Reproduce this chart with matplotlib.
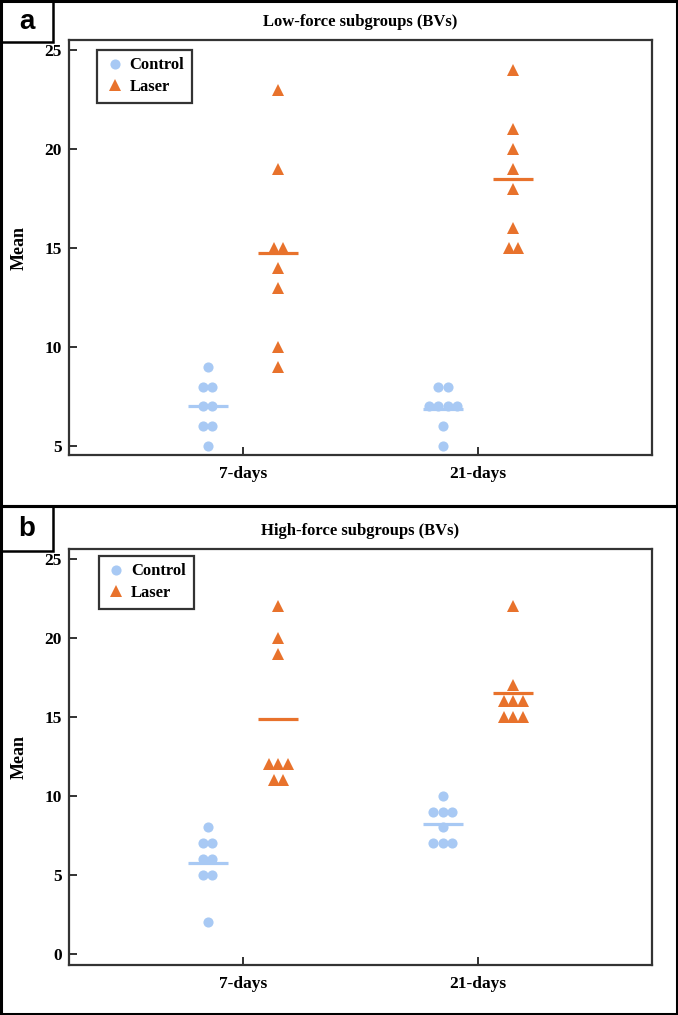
import numpy as np
import matplotlib
matplotlib.use('Agg')
import matplotlib.pyplot as plt
from matplotlib.patches import Rectangle
from matplotlib.lines import Line2D

# data
days = ['7-days', '21-days']

low_control_7 = [9, 8, 8, 7, 7, 6, 6, 5]
low_laser_7 = [23, 19, 15, 15, 14, 13, 10, 9]
low_control_21 = [8, 8, 7, 7, 7, 7, 6, 5]
low_laser_21 = [24, 21, 20, 19, 18, 16, 15, 15]

high_control_7 = [8, 7, 7, 6, 6, 5, 5, 2]
high_laser_7 = [22, 20, 19, 12, 12, 12, 11, 11]
high_control_21 = [10, 9, 9, 9, 8, 7, 7, 7]
high_laser_21 = [22, 17, 16, 16, 16, 15, 15, 15]

c_ctrl = '#a8c9f4'
c_laser = '#e8722c'
serif = 'Liberation Serif'

plt.rcParams['font.family'] = serif
plt.rcParams['font.weight'] = 'bold'

fig = plt.figure(figsize=(6.78, 10.15), dpi=100)


def swarm(ax, xc, vals, color, marker):
    vals = np.array(vals)
    xs = []
    ys = []
    for v in np.unique(vals):
        n = np.sum(vals == v)
        for i in range(n):
            xs.append(xc + (i - (n - 1) / 2.0) * 0.04)
            ys.append(v)
    ax.plot(xs, ys, linestyle='none', marker=marker, color=color,
            markersize=8 if marker == '^' else 7.3, markeredgewidth=0, zorder=3)
    ax.hlines(np.mean(vals), xc - 0.085, xc + 0.085, color=color, lw=2.3, zorder=2)


def panel(rect, title, groups, ylim, yticks, leg_anchor):
    ax = fig.add_axes(rect)
    for k, (ctrl, laser) in enumerate(groups):
        xc = k + 1
        swarm(ax, xc - 0.15, ctrl, c_ctrl, 'o')
        swarm(ax, xc + 0.15, laser, c_laser, '^')
    ax.set_xlim(0.26, 2.74)
    ax.set_ylim(*ylim)
    ax.set_xticks([1, 2])
    ax.set_xticklabels(days, fontsize=12.5, fontweight='bold')
    ax.set_yticks(yticks)
    ax.set_yticklabels([str(t) for t in yticks], fontsize=12.5, fontweight='bold')
    ax.tick_params(direction='in', length=6, width=1.3, color='#222222', pad=5)
    ax.tick_params(axis='x', pad=8)
    for s in ax.spines.values():
        s.set_linewidth(1.6)
        s.set_color('#333333')
    ax.set_title(title, fontsize=12, fontweight='bold', pad=10)
    ax.set_ylabel('Mean', fontsize=13, fontweight='bold', labelpad=12)
    handles = [Line2D([], [], linestyle='none', marker='o', color=c_ctrl, markersize=7.3, markeredgewidth=0),
               Line2D([], [], linestyle='none', marker='^', color=c_laser, markersize=8, markeredgewidth=0)]
    leg = ax.legend(handles, ['Control', 'Laser'], loc='upper left', bbox_to_anchor=leg_anchor,
                    borderaxespad=0, fancybox=False, framealpha=1, edgecolor='#333333',
                    prop={'family': serif, 'weight': 'bold', 'size': 12},
                    handletextpad=0.3, handlelength=1.2, borderpad=0.45, labelspacing=0.35)
    leg.get_frame().set_linewidth(1.6)
    return ax


panel([0.1018, 0.5517, 0.860, 0.4089], 'Low-force subgroups (BVs)',
      [(low_control_7, low_laser_7), (low_control_21, low_laser_21)],
      (4.55, 25.5), [5, 10, 15, 20, 25], (0.048, 0.976))
panel([0.1018, 0.0493, 0.860, 0.4099], 'High-force subgroups (BVs)',
      [(high_control_7, high_laser_7), (high_control_21, high_laser_21)],
      (-0.7, 25.63), [0, 5, 10, 15, 20, 25], (0.051, 0.983))

# panel frames and letter boxes (pixel coords from top-left)
W, H = 678.0, 1015.0


def box(x0, y0, x1, y1, lw):
    fig.add_artist(Rectangle((x0 / W, 1 - y1 / H), (x1 - x0) / W, (y1 - y0) / H,
                             transform=fig.transFigure, fill=False, edgecolor='black',
                             linewidth=lw, zorder=10))


box(1, 1, 677, 506, 2.2)
box(1, 506, 677, 1014, 2.2)
box(1, 1, 53, 42, 1.8)
box(1, 506, 53, 551, 1.8)
fig.text(27 / W, 1 - 22 / H, 'a', family='Liberation Sans', fontsize=20, ha='center', va='center')
fig.text(27 / W, 1 - 529 / H, 'b', family='Liberation Sans', fontsize=20, ha='center', va='center')

fig.savefig('out.png', dpi=100)
